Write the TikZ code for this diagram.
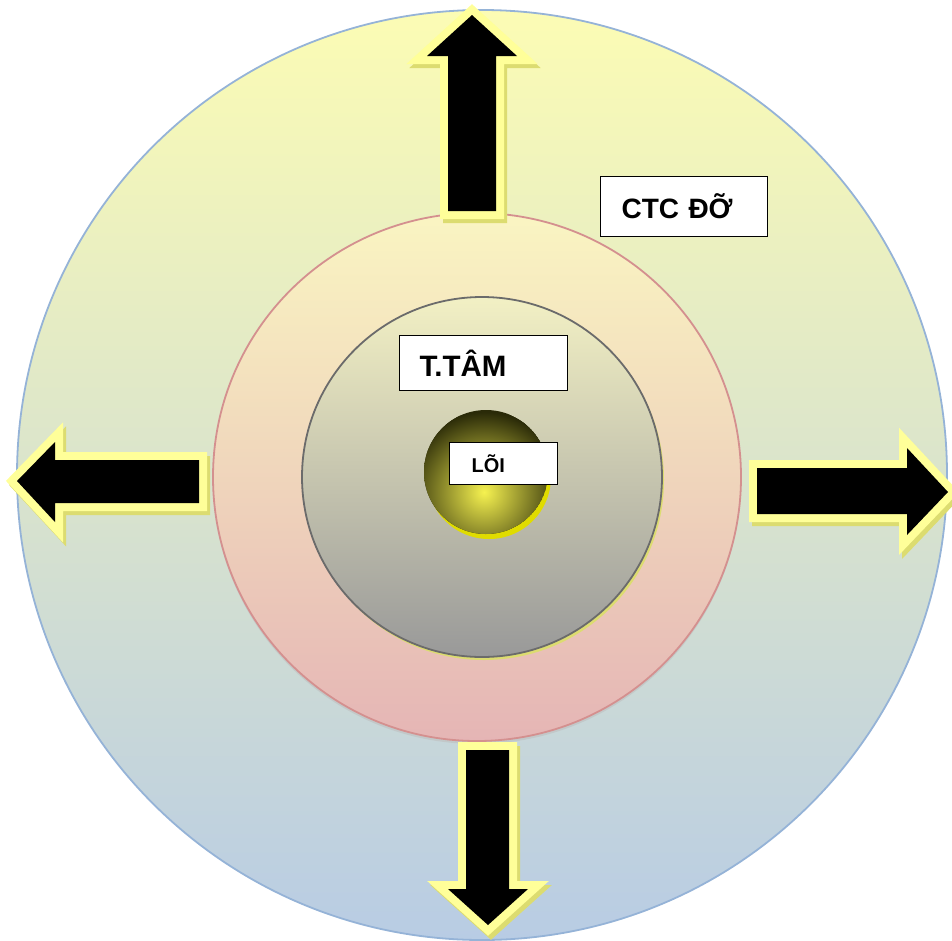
\documentclass[tikz,border=0pt]{standalone}
\usepackage{fontspec}
\setmainfont{Liberation Sans}
\definecolor{outtop}{HTML}{FCFCB4}
\definecolor{outmid}{HTML}{E6EACA}
\definecolor{outbot}{HTML}{B8CCE4}
\definecolor{outline}{HTML}{95B3D7}
\definecolor{pinktop}{HTML}{FAF5C2}
\definecolor{pinkbot}{HTML}{E5B5B5}
\definecolor{pinkline}{HTML}{D4908F}
\definecolor{graytop}{HTML}{F2F0C4}
\definecolor{graybot}{HTML}{999999}
\definecolor{grayline}{HTML}{6B6B6B}
\definecolor{coreout}{HTML}{2A2A08}
\definecolor{corein}{HTML}{F6F250}
\definecolor{coreshadow}{HTML}{E0DC00}
\definecolor{arrowrim}{HTML}{FFFF99}
\definecolor{arrowshadow}{HTML}{DCDC70}
\tikzset{
  labelbox/.style={draw=black, line width=1.3pt, fill=white, align=left, anchor=north west, inner ysep=0pt, font=\bfseries},
  rimshape/.style={draw=arrowrim, fill=arrowrim, line width=16pt, line join=miter, miter limit=10},
  rimshadow/.style={draw=arrowshadow, fill=arrowshadow, line width=16pt, line join=miter, miter limit=10},
  blackshape/.style={fill=black}
}
\begin{document}
\begin{tikzpicture}[x=1pt,y=-1pt]
\useasboundingbox (0,0) rectangle (952,940);
% outer circle
\shade[top color=outtop, middle color=outmid, bottom color=outbot] (482,475) circle[radius=465pt];
\draw[outline, line width=1.8pt] (482,475) circle[radius=465pt];
% pink circle
\fill[black!25, opacity=0.6] (477,480) circle[radius=264pt];
\shade[top color=pinktop, bottom color=pinkbot] (477,477) circle[radius=264pt];
\draw[pinkline, line width=1.8pt] (477,477) circle[radius=264pt];
% gray circle
\fill[arrowshadow] (484,480) circle[radius=180pt];
\shade[top color=graytop, bottom color=graybot] (482,477) circle[radius=180pt];
\draw[grayline, line width=1.8pt] (482,477) circle[radius=180pt];
% core
\fill[coreshadow] (489,477) circle[radius=62pt];
\begin{scope}
\clip (486,472) circle[radius=62pt];
\fill[coreout] (486,472) circle[radius=62pt];
\shade[inner color=corein, outer color=coreout] (484,492) circle[radius=80pt];
\end{scope}
% arrows
\def\uparr{(448,211) -- (448,56) -- (427,56) -- (472,15) -- (517,56) -- (496,56) -- (496,211) -- cycle}
\def\leftarr{(199,460) -- (55,460) -- (55,442) -- (17,481) -- (55,522) -- (55,503) -- (199,503) -- cycle}
\def\rightarr{(757,468) -- (907,468) -- (907,448) -- (948,492) -- (907,535) -- (907,514) -- (757,514) -- cycle}
\def\downarr{(466,750) -- (509,750) -- (509,889) -- (528,889) -- (488,925) -- (448,889) -- (466,889) -- cycle}
\foreach \a in {\uparr,\leftarr,\rightarr,\downarr}{
  \begin{scope}[shift={(3,4)}]
  \path[rimshadow] \a;
  \end{scope}
  \path[rimshape] \a;
  \path[blackshape] \a;
}
% labels
\node[labelbox, font=\bfseries\fontsize{28}{32}\selectfont, minimum height=60pt, text width=125pt, inner xsep=21pt] (ctc) at (600,176) {CTC ĐỠ};
\node[labelbox, font=\bfseries\fontsize{29.5}{33}\selectfont, minimum height=55pt, text width=128pt, inner xsep=20pt] (ttam) at (399,335) {T.TÂM};
\node[labelbox, font=\bfseries\fontsize{20}{24}\selectfont, minimum height=42pt, text width=64pt, inner xsep=22pt] (loi) at (449,442) {LÕI};
\end{tikzpicture}
\end{document}
